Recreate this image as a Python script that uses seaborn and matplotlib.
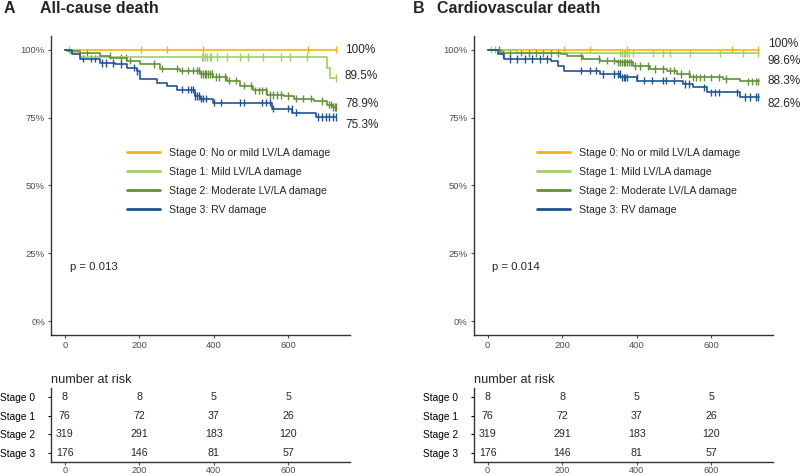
import matplotlib
matplotlib.use('Agg')
import matplotlib.pyplot as plt
from matplotlib.lines import Line2D
import seaborn as sns
import pandas as pd
import numpy as np

# ---- data ----
stages = ['Stage 0', 'Stage 1', 'Stage 2', 'Stage 3']
legend_labels = ['Stage 0: No or mild LV/LA damage', 'Stage 1: Mild LV/LA damage',
                 'Stage 2: Moderate LV/LA damage', 'Stage 3: RV damage']
colors = ['#F9B111', '#9DD06B', '#62913A', '#1F5492']

# Panel A: all-cause death (step knots)
a_t0 = [0, 728]
a_s0 = [1.0, 1.0]
a_t1 = [0, 15, 40, 703, 712, 728]
a_s1 = [1.0, 0.987, 0.974, 0.934, 0.895, 0.895]
a_t2 = [0, 5, 40, 94, 121, 167, 202, 256, 310, 363, 398, 436, 471, 506, 544, 587, 614, 668, 705, 720, 728]
a_s2 = [1.0, 0.995, 0.989, 0.978, 0.971, 0.960, 0.948, 0.930, 0.923, 0.910, 0.900, 0.886, 0.868, 0.850,
        0.834, 0.830, 0.820, 0.812, 0.798, 0.789, 0.789]
a_t3 = [0, 20, 40, 94, 135, 167, 194, 202, 248, 275, 302, 350, 363, 398, 557, 611, 673, 728]
a_s3 = [1.0, 0.983, 0.967, 0.952, 0.948, 0.934, 0.920, 0.893, 0.879, 0.868, 0.853, 0.830, 0.820, 0.805,
        0.783, 0.768, 0.753, 0.753]

a_c0 = [205, 275, 372, 654, 727]
a_c1 = [10, 368, 372, 376, 382, 390, 393, 409, 436, 471, 493, 533, 581, 605, 651, 727]
a_c2 = [60, 120, 150, 165, 175, 240, 260, 300, 315, 330, 345, 355, 360, 365, 370, 375, 380, 385, 390, 395,
        405, 415, 430, 440, 460, 480, 500, 510, 520, 530, 540, 550, 560, 570, 580, 600, 620, 640, 660,
        690, 710, 715, 720, 725, 728]
a_c3 = [50, 70, 80, 100, 110, 130, 150, 185, 195, 315, 330, 340, 345, 350, 355, 360, 365, 370, 380, 400,
        420, 470, 480, 530, 540, 550, 560, 600, 610, 620, 680, 690, 700, 710, 720, 727]
a_end = ['100%', '89.5%', '78.9%', '75.3%']
a_end_y = [1.0, 0.904, 0.80, 0.724]
a_p = 'p = 0.013'

# Panel B: cardiovascular death
b_t0 = [0, 728]
b_s0 = [1.0, 1.0]
b_t1 = [0, 80, 728]
b_s1 = [1.0, 0.986, 0.986]
b_t2 = [0, 35, 97, 196, 214, 257, 303, 348, 391, 437, 482, 509, 544, 633, 678, 697, 728]
b_s2 = [1.0, 0.989, 0.988, 0.984, 0.975, 0.966, 0.960, 0.953, 0.941, 0.929, 0.923, 0.911, 0.898,
        0.892, 0.886, 0.883, 0.883]
b_t3 = [0, 27, 43, 169, 188, 204, 303, 356, 402, 525, 552, 590, 678, 728]
b_s3 = [1.0, 0.984, 0.966, 0.960, 0.941, 0.923, 0.911, 0.898, 0.886, 0.874, 0.861, 0.843, 0.826, 0.826]

b_c0 = [204, 276, 375, 657, 726]
b_c1 = [10, 20, 356, 360, 365, 370, 375, 380, 389, 445, 472, 490, 544, 624, 686, 726]
b_c2 = [30, 60, 90, 110, 130, 150, 170, 190, 250, 300, 320, 340, 350, 355, 360, 365, 370, 375, 380,
        385, 395, 410, 430, 450, 470, 490, 500, 520, 540, 550, 560, 570, 580, 600, 620, 640, 700,
        710, 720, 727]
b_c3 = [40, 60, 80, 100, 120, 140, 160, 250, 275, 290, 310, 340, 350, 355, 360, 365, 370, 375, 400,
        420, 440, 470, 480, 500, 530, 540, 580, 600, 610, 620, 670, 690, 705, 720, 727]
b_end = ['100%', '98.6%', '88.3%', '82.6%']
b_end_y = [1.022, 0.96, 0.886, 0.80]
b_p = 'p = 0.014'

risk_times = [0, 200, 400, 600]
risk_s0 = [8, 8, 5, 5]
risk_s1 = [76, 72, 37, 26]
risk_s2 = [319, 291, 183, 120]
risk_s3 = [176, 146, 81, 57]


def curve_frame(ts, ss):
    rows = []
    for st, t, s in zip(stages, ts, ss):
        for ti, si in zip(t, s):
            rows.append({'time': ti, 'surv': si, 'stage': st})
    return pd.DataFrame(rows)


def censor_frame(ts, ss, cs):
    rows = []
    for st, t, s, c in zip(stages, ts, ss, cs):
        for ci in c:
            idx = np.searchsorted(t, ci, side='right') - 1
            rows.append({'time': ci, 'surv': s[idx], 'stage': st})
    return pd.DataFrame(rows)


sns.set_style('ticks')
plt.rcParams['font.family'] = ['Liberation Sans', 'DejaVu Sans']
pal = dict(zip(stages, colors))

fig = plt.figure(figsize=(8, 4.75), dpi=100)

panels = [
    (0.064, 'A', 'All-cause death', [a_t0, a_t1, a_t2, a_t3], [a_s0, a_s1, a_s2, a_s3],
     [a_c0, a_c1, a_c2, a_c3], a_end, a_end_y, a_p, 0.254, 0.004, 0.05),
    (0.5925, 'B', 'Cardiovascular death', [b_t0, b_t1, b_t2, b_t3], [b_s0, b_s1, b_s2, b_s3],
     [b_c0, b_c1, b_c2, b_c3], b_end, b_end_y, b_p, 0.211, 0.516, 0.546),
]

for left, letter, title, ts, ss, cs, ends, ends_y, ptxt, leg_x, let_x, tit_x in panels:
    ax = fig.add_axes([left, 0.295, 0.374, 0.629])
    curves = curve_frame(ts, ss)
    cens = censor_frame(ts, ss, cs)
    sns.lineplot(data=curves, x='time', y='surv', hue='stage', palette=pal, hue_order=stages,
                 estimator=None, drawstyle='steps-post', linewidth=1.2, legend=False, ax=ax)
    sns.scatterplot(data=cens, x='time', y='surv', hue='stage', palette=pal, hue_order=stages,
                    marker='|', s=30, linewidth=1.0, legend=False, ax=ax)
    ax.set_xlim(-36.5, 766.5)
    ax.set_ylim(-0.05, 1.05)
    ax.set_xticks([0, 200, 400, 600])
    ax.set_yticks([0, 0.25, 0.5, 0.75, 1.0])
    ax.set_yticklabels(['0%', '25%', '50%', '75%', '100%'])
    ax.set_xlabel('')
    ax.set_ylabel('')
    ax.tick_params(labelsize=6.8, colors='#4D4D4D', length=2.5, width=0.8, pad=2)
    for sp in ['left', 'bottom']:
        ax.spines[sp].set_color('#333333')
        ax.spines[sp].set_linewidth(1.0)
    sns.despine(ax=ax)
    for lab, y in zip(ends, ends_y):
        ax.text(752, y, lab, fontsize=8.5, va='center', ha='left', clip_on=False)
    ax.text(13, 0.20, ptxt, fontsize=8.2, va='center', ha='left')
    handles = [Line2D([], [], color=c, linewidth=2) for c in colors]
    ax.legend(handles, legend_labels, loc='upper left', bbox_to_anchor=(leg_x, 0.626),
              frameon=False, fontsize=7.6, handlelength=3.1, handletextpad=0.85,
              labelspacing=0.86, borderpad=0, borderaxespad=0)
    fig.text(let_x, 0.983, letter, fontsize=11.5, fontweight='bold', va='center')
    fig.text(tit_x, 0.983, title, fontsize=11.5, fontweight='bold', va='center')

    # number at risk table
    rax = fig.add_axes([left, 0.027, 0.374, 0.156])
    for i, counts in enumerate([risk_s0, risk_s1, risk_s2, risk_s3]):
        for t, n in zip(risk_times, counts):
            rax.text(t, i, str(n), fontsize=7.7, ha='center', va='center')
    rax.set_xlim(-36.5, 766.5)
    rax.set_ylim(3.5, -0.5)
    rax.set_xticks([0, 200, 400, 600])
    rax.set_yticks([0, 1, 2, 3])
    rax.set_yticklabels(stages)
    rax.tick_params(axis='y', labelsize=7.3, colors='black', length=2.5, width=0.8, pad=9)
    rax.tick_params(axis='x', labelsize=6.6, colors='#4D4D4D', length=2, width=0.8, pad=0.5)
    for sp in ['left', 'bottom']:
        rax.spines[sp].set_color('#333333')
        rax.spines[sp].set_linewidth(1.0)
    sns.despine(ax=rax)
    rax.set_title('number at risk', fontsize=9.1, loc='left', pad=4)

fig.savefig('out.png', dpi=100)
